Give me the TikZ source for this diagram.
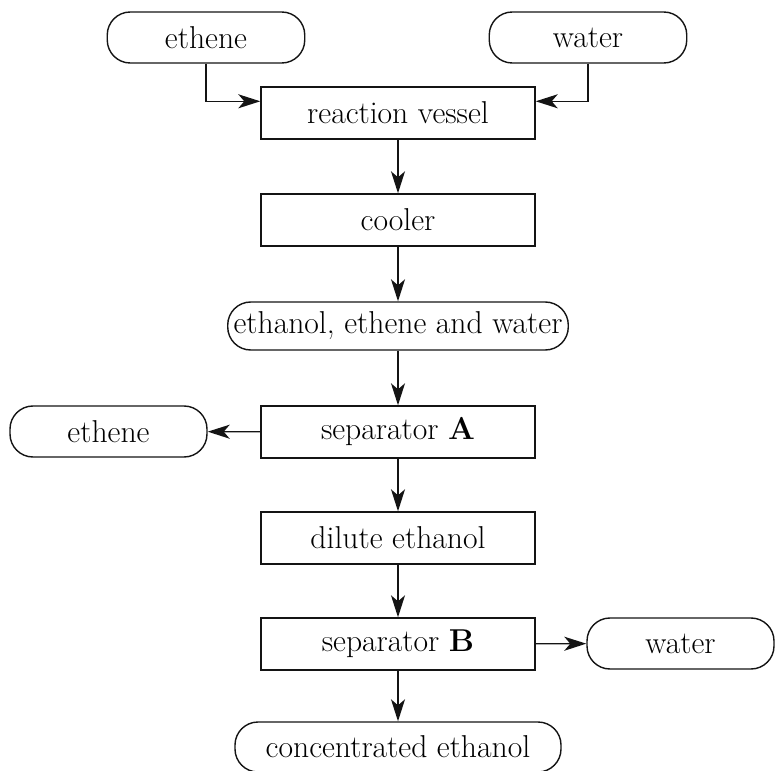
\documentclass[tikz,border=0pt]{standalone}
\usepackage{tikz}
\usetikzlibrary{arrows.meta, positioning}
\definecolor{linecolor}{RGB}{20,20,20}

\begin{document}
\begin{tikzpicture}[
    stepbox/.style={draw=linecolor, line width=0.8pt, minimum width=5.48cm, minimum height=1.04cm, font=\fontsize{18}{21}\selectfont},
    stuff/.style={draw=linecolor, line width=0.8pt, rounded corners=0.46cm, minimum width=3.95cm, minimum height=1.02cm, font=\fontsize{18}{21}\selectfont},
    flow/.style={-{Stealth[length=4.4mm, width=2.8mm, inset=1.2mm]}, line width=0.8pt, linecolor}
]
    \useasboundingbox (0,0) rectangle (15.5,-15.42);
    % Feeds
    \node[stuff] (ethenein) at (4.12,-0.75) {ethene};
    \node[stuff] (waterin) at (11.76,-0.75) {water};

    % Process line
    \node[stepbox] (vessel) at (7.96,-2.26) {reaction vessel};
    \node[stepbox] (cooler) at (7.96,-4.40) {cooler};
    \node[stuff, minimum width=6.7cm, minimum height=0.96cm] (mixture) at (7.96,-6.52) {ethanol, ethene and water};
    \node[stepbox] (sepA) at (7.96,-8.64) {separator \textbf{A}};
    \node[stuff, minimum width=3.94cm] (etheneout) at (2.17,-8.63) {ethene};
    \node[stepbox] (dilute) at (7.96,-10.76) {dilute ethanol};
    \node[stepbox] (sepB) at (7.96,-12.88) {separator \textbf{B}};
    \node[stuff, minimum width=3.74cm] (waterout) at (13.61,-12.87) {water};
    \node[stuff, minimum width=6.52cm, minimum height=1.0cm] (product) at (7.96,-14.94) {concentrated ethanol};

    % Flows
    \draw[flow] (ethenein.south) |- ([yshift=-0.3cm]vessel.north west);
    \draw[flow] (waterin.south) |- ([yshift=-0.3cm]vessel.north east);
    \draw[flow] (vessel) -- (cooler);
    \draw[flow] (cooler) -- (mixture);
    \draw[flow] (mixture) -- (sepA);
    \draw[flow] (sepA) -- (etheneout);
    \draw[flow] (sepA) -- (dilute);
    \draw[flow] (dilute) -- (sepB);
    \draw[flow] (sepB) -- (waterout);
    \draw[flow] (sepB) -- (product);
\end{tikzpicture}
\end{document}
